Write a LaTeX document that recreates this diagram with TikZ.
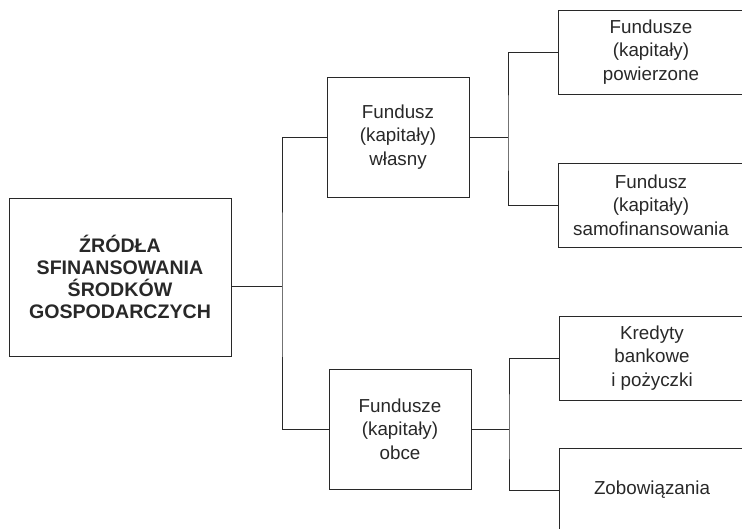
\documentclass[tikz,border=0pt]{standalone}
\usepackage{fontspec}
\setmainfont{Liberation Sans}
\definecolor{inkgray}{RGB}{40,40,40}
\tikzset{
  srcbox/.style={draw=inkgray, line width=0.9pt, text=inkgray, align=center,
    inner sep=0pt, minimum width=222pt, minimum height=158pt,
    font=\fontsize{19.6}{22}\selectfont\bfseries},
  fundbox/.style={draw=inkgray, line width=0.9pt, text=inkgray, align=center,
    inner sep=0pt, minimum width=142pt, minimum height=120pt,
    font=\fontsize{18.8}{23.3}\selectfont},
  subbox/.style={fundbox, minimum width=186pt, minimum height=84pt},
  link/.style={draw=inkgray, line width=0.9pt},
}

\begin{document}
\begin{tikzpicture}[x=1pt,y=-1pt]
\useasboundingbox (0,0) rectangle (742,529);
\clip (0,0) rectangle (742,529);
\node[srcbox] (zrodla) at (120,277) {ŹRÓDŁA\\SFINANSOWANIA\\ŚRODKÓW\\GOSPODARCZYCH};
\node[fundbox] (wlasny) at (398,137) {Fundusz\\(kapitały)\\własny};
\node[fundbox] (obce) at (400,429) {Fundusze\\(kapitały)\\obce};
\node[subbox] (powierz) at (651,52) {Fundusze\\(kapitały)\\powierzone};
\node[subbox] (samofin) at (651,205) {Fundusz\\(kapitały)\\samofinansowania};
\node[subbox] (kredyty) at (652,358) {Kredyty\\bankowe\\i pożyczki};
\node[subbox] (zobow) at (652,490) {Zobowiązania};
\coordinate (forkA) at (282,286);
\coordinate (forkB) at (508,137);
\coordinate (forkC) at (509,429);
\draw[link] (zrodla.east |- forkA) -- (forkA);
\draw[link] (wlasny.west) -| (forkA) |- (obce.west);
\draw[link] (wlasny.east) -- (forkB);
\draw[link] (powierz.west) -| (forkB) |- (samofin.west);
\draw[link] (obce.east) -- (forkC);
\draw[link] (kredyty.west) -| (forkC) |- (zobow.west);
\end{tikzpicture}
\end{document}
